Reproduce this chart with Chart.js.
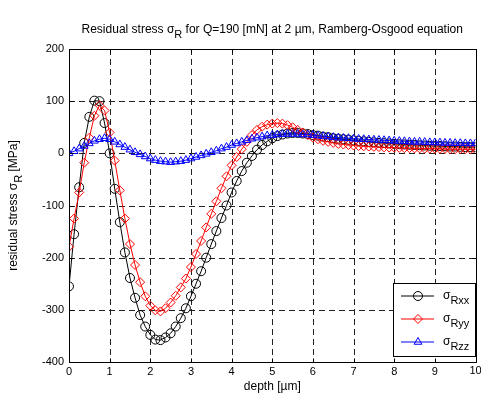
<!DOCTYPE html>
<html lang="en">
<head>
<meta charset="UTF-8">
<title>Residual stress, Ramberg-Osgood</title>
<script src="https://cdn.jsdelivr.net/npm/chart.js"></script>
<style>
  html, body { margin: 0; padding: 0; background: #fff; }
  #chart { display: block; }
</style>
</head>
<body>
<canvas id="chart" width="481" height="394"></canvas>
<script>
// depth [um]
const depth = [
  0, 0.125, 0.25, 0.375, 0.5, 0.625, 0.75, 0.875,
  1, 1.125, 1.25, 1.375, 1.5, 1.625, 1.75, 1.875,
  2, 2.125, 2.25, 2.375, 2.5, 2.625, 2.75, 2.875,
  3, 3.125, 3.25, 3.375, 3.5, 3.625, 3.75, 3.875,
  4, 4.125, 4.25, 4.375, 4.5, 4.625, 4.75, 4.875,
  5, 5.125, 5.25, 5.375, 5.5, 5.625, 5.75, 5.875,
  6, 6.125, 6.25, 6.375, 6.5, 6.625, 6.75, 6.875,
  7, 7.125, 7.25, 7.375, 7.5, 7.625, 7.75, 7.875,
  8, 8.125, 8.25, 8.375, 8.5, 8.625, 8.75, 8.875,
  9, 9.125, 9.25, 9.375, 9.5, 9.625, 9.75, 9.875,
  10
];

// residual stress [MPa]
const sigmaRxx = [
  -255, -155, -65, 20, 70, 101, 100, 58,
  0, -68, -132, -190, -239, -277, -310, -332,
  -348, -357, -358, -353, -345, -332, -316, -297,
  -274, -250, -226, -200, -174, -149, -124, -100,
  -75, -53, -34, -18, -5, 7, 16, 23,
  29, 33, 36, 38, 39, 39, 38, 37,
  35, 34, 32, 31, 29, 28, 27, 26,
  25, 24, 23, 22, 21, 20, 19.5, 19,
  18, 17.5, 17, 16.5, 16, 15.5, 15, 14.5,
  14, 14, 13.5, 13, 13, 12.5, 12, 12,
  12
];
const sigmaRyy = [
  -179, -125, -75, -18, 30, 72, 92, 82,
  40, -14, -71, -125, -174, -214, -247, -274,
  -292, -301, -303, -297, -286, -273, -257, -240,
  -218, -193, -168, -142, -116, -92, -67, -44,
  -23, -7, 8, 22, 35, 45, 51, 55,
  57, 58, 57, 54, 50, 45, 40, 35,
  30, 27, 24, 22, 20, 18, 17, 16,
  15, 14, 13.5, 13, 12.5, 12, 11.5, 11,
  11, 10.5, 10, 10, 9.5, 9.5, 9, 9,
  9, 8.5, 8.5, 8, 8, 8, 8, 7.5,
  7.5
];
const sigmaRzz = [
  0, 4, 9, 14, 19, 24, 27, 29,
  27, 22, 17, 12, 7, 2, -2, -6,
  -10, -13, -15, -16, -17, -16, -15, -13,
  -10, -7, -4, -1, 2, 5, 9, 12,
  16, 19, 22, 25, 28, 30, 32, 34,
  35, 36, 37, 37, 37, 37, 36, 36,
  35, 34, 33, 32, 31, 30, 29.5, 29,
  28, 27.5, 27, 26.5, 26, 25.5, 25, 24.5,
  24, 23.5, 23, 22.5, 22, 22, 21.5, 21,
  21, 20.5, 20, 20, 19.5, 19.5, 19, 19,
  19
];

const xRange = [0, 10];
const yRange = [-400, 200];

const series = [
  { name: 'Rxx', values: sigmaRxx, color: '#000000', style: 'circle' },
  { name: 'Ryy', values: sigmaRyy, color: '#ff0000', style: 'rectRot' },
  { name: 'Rzz', values: sigmaRzz, color: '#0000ff', style: 'triangle' }
];

const FONT = 'Arial, "Liberation Sans", sans-serif';

// text with subscripts: parts = [[text, isSub], ...]
function richText(ctx, parts, x, y, size, align) {
  let w = 0;
  parts.forEach(p => {
    ctx.font = (p[1] ? size - 1 : size) + 'px ' + FONT;
    w += ctx.measureText(p[0]).width;
  });
  let cx = align === 'left' ? x : x - w / 2;
  ctx.textAlign = 'left';
  ctx.textBaseline = 'alphabetic';
  parts.forEach(p => {
    ctx.font = (p[1] ? size - 1 : size) + 'px ' + FONT;
    ctx.fillText(p[0], cx, y + (p[1] ? 5 : 0));
    cx += ctx.measureText(p[0]).width;
  });
}

const px = v => Math.round(v) + 0.5;

const matlabFrame = {
  id: 'matlabFrame',
  beforeDatasetsDraw(chart) {
    const { ctx, chartArea: a, scales: { x, y } } = chart;
    ctx.save();
    ctx.strokeStyle = '#222';
    ctx.lineWidth = 1;
    ctx.setLineDash([6, 4]);
    x.ticks.forEach(t => {
      if (t.value <= xRange[0] || t.value >= xRange[1]) return;
      const xp = px(x.getPixelForValue(t.value));
      ctx.beginPath(); ctx.moveTo(xp, a.top); ctx.lineTo(xp, a.bottom); ctx.stroke();
    });
    y.ticks.forEach(t => {
      if (t.value <= yRange[0] || t.value >= yRange[1]) return;
      const yp = px(y.getPixelForValue(t.value));
      ctx.beginPath(); ctx.moveTo(a.left, yp); ctx.lineTo(a.right, yp); ctx.stroke();
    });
    ctx.restore();
  },
  afterDraw(chart) {
    const { ctx, chartArea: a, scales: { x, y } } = chart;
    ctx.save();
    ctx.strokeStyle = '#000';
    ctx.fillStyle = '#000';
    ctx.lineWidth = 1;
    ctx.setLineDash([]);
    const L = px(a.left), R = px(a.right), T = px(a.top), B = px(a.bottom);
    ctx.strokeRect(L, T, R - L, B - T);
    // inward ticks on all sides
    ctx.beginPath();
    x.ticks.forEach(t => {
      const xp = px(x.getPixelForValue(t.value));
      ctx.moveTo(xp, B); ctx.lineTo(xp, B - 4);
      ctx.moveTo(xp, T); ctx.lineTo(xp, T + 4);
    });
    y.ticks.forEach(t => {
      const yp = px(y.getPixelForValue(t.value));
      ctx.moveTo(L, yp); ctx.lineTo(L + 4, yp);
      ctx.moveTo(R, yp); ctx.lineTo(R - 4, yp);
    });
    ctx.stroke();

    // last x label, left out of the layout so it can run off the edge like the original
    ctx.font = '11px ' + FONT;
    ctx.textAlign = 'center';
    ctx.textBaseline = 'top';
    ctx.fillText(String(xRange[1]), x.getPixelForValue(xRange[1]), a.bottom + 3);

    // title
    richText(ctx, [['Residual stress \u03c3', 0], ['R', 1],
      [' for Q=190 [mN] at 2 \u00b5m, Ramberg-Osgood equation', 0]],
      (a.left + a.right) / 2, 33, 12);

    // axis titles
    richText(ctx, [['depth [\u00b5m]', 0]], (a.left + a.right) / 2, 390, 12);
    ctx.save();
    ctx.translate(17, (a.top + a.bottom) / 2);
    ctx.rotate(-Math.PI / 2);
    richText(ctx, [['residual stress \u03c3', 0], ['R', 1], [' [MPa]', 0]], 0, 0, 12);
    ctx.restore();

    // legend
    const lx = 393.5, ly = 283.5, lw = 82, lh = 73;
    ctx.fillStyle = '#fff';
    ctx.fillRect(lx, ly, lw, lh);
    ctx.strokeStyle = '#000';
    ctx.strokeRect(lx, ly, lw, lh);
    series.forEach((s, i) => {
      const cy = ly + 12.5 + i * 23;
      ctx.strokeStyle = s.color;
      ctx.fillStyle = 'rgba(0,0,0,0)';
      ctx.lineWidth = 1;
      ctx.beginPath(); ctx.moveTo(401, cy); ctx.lineTo(434, cy); ctx.stroke();
      Chart.helpers.drawPoint(ctx, {
        pointStyle: s.style, radius: 4.5, borderWidth: 1, rotation: 0
      }, 418, cy);
      ctx.fillStyle = '#000';
      richText(ctx, [['\u03c3', 0], [s.name, 1]], 443, cy + 3, 12, 'left');
    });
    ctx.restore();
  }
};

new Chart(document.getElementById('chart'), {
  type: 'scatter',
  data: {
    datasets: series.map((s, i) => ({
      label: '\u03c3' + s.name,
      data: depth.map((d, k) => ({ x: d, y: s.values[k] })),
      showLine: true,
      borderColor: s.color,
      borderWidth: 1,
      backgroundColor: 'rgba(0,0,0,0)',
      pointStyle: s.style,
      pointRadius: 4.5,
      pointBorderWidth: 1,
      pointBorderColor: s.color,
      pointBackgroundColor: 'rgba(0,0,0,0)',
      tension: 0,
      order: series.length - i
    }))
  },
  options: {
    responsive: false,
    animation: false,
    devicePixelRatio: 1,
    layout: { padding: { left: 0, right: 2, top: 49, bottom: 0 } },
    plugins: {
      legend: { display: false },
      title: { display: false },
      tooltip: { enabled: false }
    },
    scales: {
      x: {
        type: 'linear',
        min: xRange[0], max: xRange[1],
        grid: { display: false, drawTicks: false },
        border: { display: false },
        ticks: {
          stepSize: 1, color: '#000', padding: 3, font: { family: FONT, size: 11 },
          callback: v => (v === xRange[1] ? '' : String(v))
        },
        afterFit(scale) { scale.height = 32; }
      },
      y: {
        min: yRange[0], max: yRange[1],
        grid: { display: false, drawTicks: false },
        border: { display: false },
        ticks: { stepSize: 100, color: '#000', padding: 5, font: { family: FONT, size: 11 } },
        afterFit(scale) { scale.width = 69; }
      }
    }
  },
  plugins: [matlabFrame]
});
</script>
</body>
</html>
